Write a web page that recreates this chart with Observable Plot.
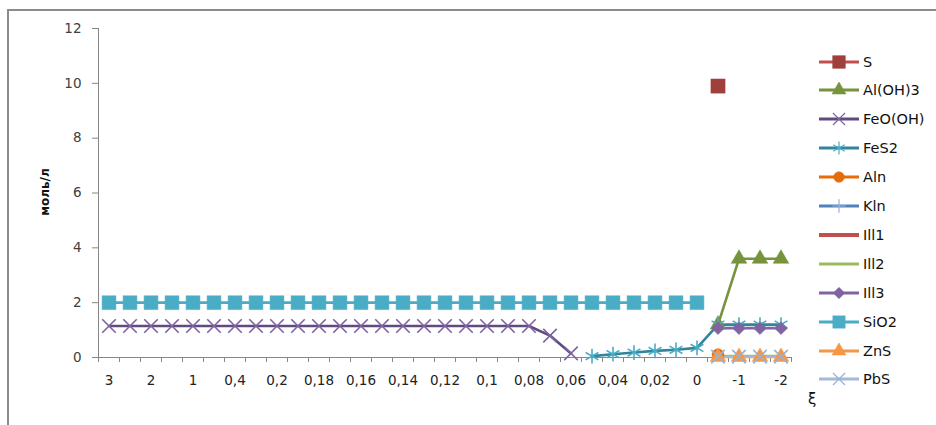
<!DOCTYPE html>
<html><head><meta charset="utf-8">
<script src="https://cdn.jsdelivr.net/npm/d3@7"></script>
<script src="https://cdn.jsdelivr.net/npm/@observablehq/plot@0.6"></script>
<style>
body{margin:0;background:#fff;font-family:"DejaVu Sans",sans-serif}
#wrap{position:relative;width:936px;height:425px;overflow:hidden;background:#fff}
#frame{position:absolute;left:7px;top:9px;width:980px;height:480px;border-top:2px solid #8c8c8c;border-left:2px solid #8c8c8c;pointer-events:none}
#chart{position:absolute;left:0;top:0}
#chart g[aria-label="x-axis tick label"]{font-size:13.5px;fill:#222}
#chart g[aria-label="y-axis tick label"]{font-size:13.5px;fill:#404040}
#ylab{position:absolute;left:45px;top:192px;transform:translate(-50%,-50%) rotate(-90deg);font-weight:bold;font-size:12px;color:#111;white-space:nowrap;font-family:"DejaVu Sans",sans-serif}
#xlab{position:absolute;left:808px;top:390px;font-size:15px;color:#111}
.leg{position:absolute;left:818px;height:16px;display:flex;align-items:center;font-size:14.5px;color:#111}
.leg svg{margin-right:3px}
</style></head>
<body>
<div id="wrap">
  <div id="chart"></div>
  <div id="frame"></div>
  <div id="ylab">моль/л</div>
  <div id="xlab">ξ</div>
  <div id="legend"></div>
</div>
<script>
const categories = ["3","2,5","2","1,5","1","0,6","0,4","0,3","0,2","0,19","0,18","0,17","0,16","0,15","0,14","0,13","0,12","0,11","0,1","0,09","0,08","0,07","0,06","0,05","0,04","0,03","0,02","0,01","0","-0,5","-1","-1,5","-2"];
const yTicks = [0, 2, 4, 6, 8, 10, 12];

const S_vals      = [null,null,null,null,null,null,null,null,null,null,null,null,null,null,null,null,null,null,null,null,null,null,null,null,null,null,null,null,null,9.9,null,null,null];
const AlOH3_vals  = [null,null,null,null,null,null,null,null,null,null,null,null,null,null,null,null,null,null,null,null,null,null,null,null,null,null,null,null,null,1.2,3.6,3.6,3.6];
const FeOOH_vals  = [1.15,1.15,1.15,1.15,1.15,1.15,1.15,1.15,1.15,1.15,1.15,1.15,1.15,1.15,1.15,1.15,1.15,1.15,1.15,1.15,1.15,0.8,0.15,null,null,null,null,null,null,null,null,null,null];
const FeS2_vals   = [null,null,null,null,null,null,null,null,null,null,null,null,null,null,null,null,null,null,null,null,null,null,null,0.05,0.12,0.18,0.24,0.28,0.35,1.2,1.2,1.2,1.2];
const Aln_vals    = [null,null,null,null,null,null,null,null,null,null,null,null,null,null,null,null,null,null,null,null,null,null,null,null,null,null,null,null,null,0.1,null,null,null];
const Kln_vals    = [null,null,null,null,null,null,null,null,null,null,null,null,null,null,null,null,null,null,null,null,null,null,null,null,null,null,null,null,null,null,null,null,null];
const Ill1_vals   = [null,null,null,null,null,null,null,null,null,null,null,null,null,null,null,null,null,null,null,null,null,null,null,null,null,null,null,null,null,null,null,null,null];
const Ill2_vals   = [null,null,null,null,null,null,null,null,null,null,null,null,null,null,null,null,null,null,null,null,null,null,null,null,null,null,null,null,null,0.05,0.05,0.05,0.05];
const Ill3_vals   = [null,null,null,null,null,null,null,null,null,null,null,null,null,null,null,null,null,null,null,null,null,null,null,null,null,null,null,null,null,1.07,1.07,1.07,1.07];
const SiO2_vals   = [2,2,2,2,2,2,2,2,2,2,2,2,2,2,2,2,2,2,2,2,2,2,2,2,2,2,2,2,2,null,null,null,null];
const ZnS_vals    = [null,null,null,null,null,null,null,null,null,null,null,null,null,null,null,null,null,null,null,null,null,null,null,null,null,null,null,null,null,0.02,0.02,0.02,0.02];
const PbS_vals    = [null,null,null,null,null,null,null,null,null,null,null,null,null,null,null,null,null,null,null,null,null,null,null,null,null,null,null,null,null,0.03,0.03,0.03,0.03];

const seriesNames = ["S","Al(OH)3","FeO(OH)","FeS2","Aln","Kln","Ill1","Ill2","Ill3","SiO2","ZnS","PbS"];
const seriesValues = [S_vals,AlOH3_vals,FeOOH_vals,FeS2_vals,Aln_vals,Kln_vals,Ill1_vals,Ill2_vals,Ill3_vals,SiO2_vals,ZnS_vals,PbS_vals];
const lineColors  = ["#C0504D","#77933C","#5F4B80","#31859C","#E46C0A","#4F81BD","#C0504D","#9BBB59","#8064A2","#4BACC6","#F79646","#A5B8DA"];
const markColors  = ["#A0403D","#77933C","#8064A2","#4BACC6","#E46C0A","#95B3D7","#C0504D","#9BBB59","#8064A2","#4BACC6","#F79646","#95B3D7"];
const symbols     = ["square","triangle","times","asterisk","circle","plus",null,null,"diamond2","square","triangle","times"];
const filled      = [true,true,false,false,true,false,false,false,true,true,true,false];
const radii       = [8,5.8,6.2,7,6,5,0,0,5.8,7.8,5.8,6.2];

const rows = [];
seriesNames.forEach((name, s) => {
  seriesValues[s].forEach((v, i) => rows.push({series: name, idx: i, value: v}));
});

const xDomain = [-0.5, categories.length - 0.5];
const boundaries = d3.range(categories.length + 1).map(i => i - 0.5);
const labelIdx = d3.range(0, categories.length, 2);

const marks = [
  Plot.axisY({ticks: yTicks, tickSize: 6, tickPadding: 11, label: null, stroke: "#868686"}),
  Plot.ruleX([xDomain[0]], {stroke: "#868686", strokeWidth: 1}),
  Plot.ruleY([0], {stroke: "#868686", strokeWidth: 1}),
  Plot.axisX({ticks: boundaries, tickSize: 5, tickFormat: () => "", label: null, stroke: "#868686"}),
  Plot.axisX({ticks: labelIdx, tickSize: 0, tickPadding: 18, tickFormat: i => categories[i], label: null})
];

seriesNames.forEach((name, s) => {
  const data = rows.filter(d => d.series === name);
  marks.push(Plot.line(data, {x: "idx", y: "value", stroke: lineColors[s], strokeWidth: 2.6}));
});
seriesNames.forEach((name, s) => {
  if (!symbols[s]) return;
  const data = rows.filter(d => d.series === name && d.value != null);
  const opts = {x: "idx", y: "value", symbol: symbols[s], r: radii[s]};
  if (filled[s]) { opts.fill = markColors[s]; opts.stroke = markColors[s]; opts.strokeWidth = 0.5; }
  else { opts.stroke = markColors[s]; opts.strokeWidth = 1.6; opts.fill = "none"; }
  marks.push(Plot.dot(data, opts));
});

const chart = Plot.plot({
  width: 936, height: 425,
  marginLeft: 98, marginRight: 145, marginTop: 28, marginBottom: 68,
  x: {type: "linear", domain: xDomain},
  y: {domain: [0, 12]},
  style: {fontFamily: "'DejaVu Sans', sans-serif", background: "transparent"},
  marks
});
document.getElementById("chart").appendChild(chart);

// legend
const legend = document.getElementById("legend");
seriesNames.forEach((name, s) => {
  const item = document.createElement("div");
  item.className = "leg";
  item.style.top = (53.5 + s * 28.9) + "px";
  const svg = d3.create("svg").attr("width", 42).attr("height", 16);
  svg.append("line").attr("x1", 1).attr("x2", 41).attr("y1", 8).attr("y2", 8)
    .attr("stroke", lineColors[s]).attr("stroke-width", s === 6 ? 4 : 3);
  if (symbols[s]) {
    const symMap = {square: d3.symbolSquare, triangle: d3.symbolTriangle, times: d3.symbolTimes, asterisk: d3.symbolAsterisk, circle: d3.symbolCircle, plus: d3.symbolPlus, diamond2: d3.symbolDiamond2};
    const size = Math.PI * radii[s] * radii[s] * 0.8;
    svg.append("path").attr("transform", "translate(21,8)")
      .attr("d", d3.symbol(symMap[symbols[s]], size)())
      .attr("fill", filled[s] ? markColors[s] : "none")
      .attr("stroke", markColors[s]).attr("stroke-width", filled[s] ? 0.5 : 1.2);
  }
  item.appendChild(svg.node());
  const t = document.createElement("span");
  t.textContent = name;
  item.appendChild(t);
  legend.appendChild(item);
});
</script>
</body></html>
